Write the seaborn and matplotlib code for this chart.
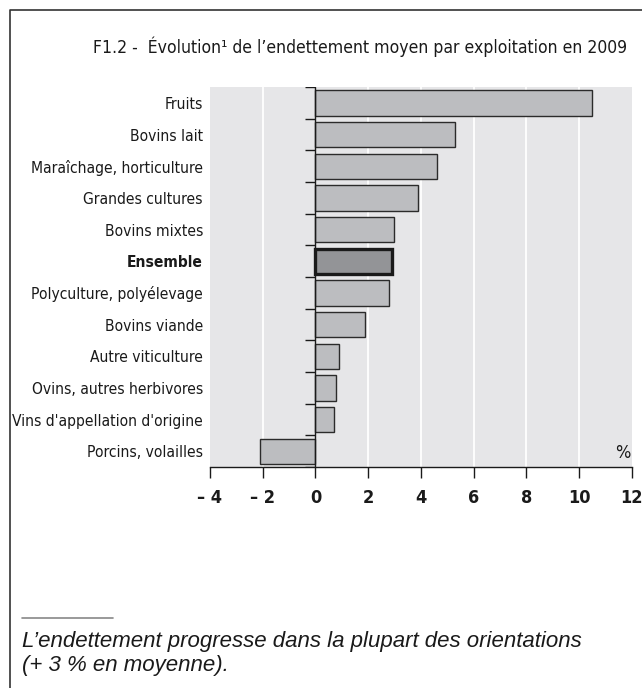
import matplotlib
matplotlib.use("Agg")
import matplotlib.pyplot as plt
import seaborn as sns
import pandas as pd

# données du graphique F1.2
categories = ["Fruits", "Bovins lait", "Maraîchage, horticulture", "Grandes cultures",
              "Bovins mixtes", "Ensemble", "Polyculture, polyélevage", "Bovins viande",
              "Autre viticulture", "Ovins, autres herbivores",
              "Vins d'appellation d'origine", "Porcins, volailles"]
evolution = [10.5, 5.3, 4.6, 3.9, 3.0, 2.9, 2.8, 1.9, 0.9, 0.8, 0.7, -2.1]
xticks = [-4, -2, 0, 2, 4, 6, 8, 10, 12]
xticklabels = ["– 4", "– 2", "0", "2", "4", "6", "8", "10", "12"]

df = pd.DataFrame({"categorie": categories, "evolution": evolution})

sns.set_theme(style="white")
plt.rcParams["font.family"] = ["DejaVu Sans"]
plt.rcParams["font.stretch"] = "condensed"

fig = plt.figure(figsize=(6.42, 6.88), dpi=100)
ax = fig.add_axes([0.327, 0.3212, 0.657, 0.5523])
ax.set_facecolor("#e6e6e8")

couleurs = ["#939497" if c == "Ensemble" else "#bcbdc0" for c in categories]
sns.barplot(data=df, x="evolution", y="categorie", hue="categorie", palette=couleurs,
            legend=False, orient="h", width=0.8, edgecolor="#2b2b2b", linewidth=1.0,
            saturation=1, ax=ax, zorder=3)

# Ensemble : contour plus épais
for p, c in zip(ax.patches, categories):
    if c == "Ensemble":
        p.set_linewidth(2.4)
        p.set_edgecolor("#1a1a1a")

ax.set_xlim(-4, 12)
ax.set_ylim(len(categories) - 0.5, -0.5)

# grille verticale blanche + axe en 0
for v in xticks[1:-1]:
    if v != 0:
        ax.axvline(v, color="white", lw=1.3, zorder=1)
ax.axvline(0, color="#1a1a1a", lw=1.0, zorder=4)
ax.hlines([i - 0.5 for i in range(len(categories) + 1)], -0.4, 0,
          color="#1a1a1a", lw=1.0, zorder=4)

for s in ["top", "right", "left"]:
    ax.spines[s].set_visible(False)
ax.spines["bottom"].set_color("#1a1a1a")
ax.spines["bottom"].set_linewidth(1.0)

ax.set_xticks(xticks)
ax.set_xticklabels(xticklabels, fontsize=13, fontweight="bold", color="#1a1a1a")
ax.tick_params(axis="x", direction="out", length=8, width=1.0, color="#1a1a1a", pad=8,
               bottom=True)
ax.tick_params(axis="y", length=0, pad=5)
ax.set_yticks(range(len(categories)))
ax.set_yticklabels(categories, fontsize=11.2, color="#1a1a1a")
for lab in ax.get_yticklabels():
    if lab.get_text() == "Ensemble":
        lab.set_fontweight("bold")
ax.set_xlabel("")
ax.set_ylabel("")

ax.text(11.97, 11.06, "%", ha="right", va="center", fontsize=13, color="#1a1a1a")

fig.text(627 / 642, 1 - 47 / 688, "F1.2 -  Évolution¹ de l’endettement moyen par exploitation en 2009",
         ha="right", va="center", fontsize=12.6, color="#1a1a1a")

# cadre
fig.add_artist(plt.Line2D([10 / 642, 10 / 642, 1], [0, 1 - 10 / 688, 1 - 10 / 688],
                          color="#333333", lw=1.2))
fig.add_artist(plt.Line2D([22 / 642, 113 / 642], [1 - 618 / 688, 1 - 618 / 688],
                          color="#888888", lw=1.2))

pied = dict(ha="left", va="center", fontsize=16, style="italic", stretch="normal",
            family=["Liberation Sans", "DejaVu Sans"], color="#1a1a1a")
fig.text(22 / 642, 1 - 641 / 688, "L’endettement progresse dans la plupart des orientations", **pied)
fig.text(22 / 642, 1 - 666 / 688, "(+ 3 % en moyenne).", **pied)

fig.savefig("out.png", dpi=100)
